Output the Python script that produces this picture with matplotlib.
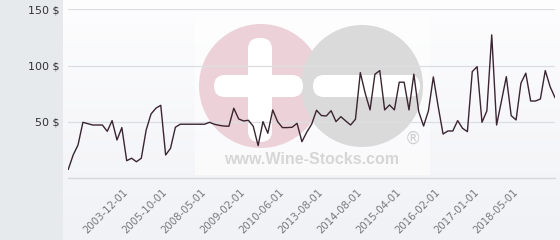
import numpy as np
import matplotlib
matplotlib.use("Agg")
from matplotlib import pyplot as plt
from matplotlib.patches import Rectangle, Circle, FancyBboxPatch

# prices, one per category step
prices = [8, 20.7, 29.6, 49.7, 48.5, 47.3, 47.3, 47.3, 41.7, 51.2,
          34, 45, 15.6, 17.8, 14.7, 17.8, 42.9, 57.1, 62.2, 64.8,
          20.7, 26.6, 45.3, 48, 48, 48, 48, 48, 48, 49.7,
          48, 47, 46.4, 46.2, 62.2, 52.7, 50.9, 51.5, 46.2, 29,
          50.3, 40, 60.7, 50.3, 45, 45, 45.3, 48.8, 32.5, 41,
          48, 60.4, 55.7, 55.3, 60, 50.3, 54.7, 50.9, 47.3, 52.4,
          93.8, 75.5, 60.7, 92.4, 95.6, 60.7, 65.1, 60.7, 85.3, 85.3,
          60.7, 92.4, 59.1, 46.4, 60, 90, 63.6, 39.3, 42, 42,
          51.2, 44.4, 41.4, 94.7, 99.1, 49.7, 59.8, 127.3, 47.3, 68.6,
          90.2, 55.6, 51.8, 84.4, 93.3, 68.6, 68.6, 70.4, 95.6, 81.3, 71.6]
tick_idx = [12, 20, 28, 36, 44, 52, 60, 68, 76, 84, 92]
tick_dates = ['2003-12-01', '2005-10-01', '2008-05-01', '2009-02-01',
              '2010-06-01', '2013-08-01', '2014-08-01', '2015-04-01',
              '2016-02-01', '2017-01-01', '2018-05-01']
y_ticks = [50, 100, 150]

fig = plt.figure(figsize=(5.6, 2.4), dpi=100)

# background layer in pixel coords: side panel, gradient, watermark
bg = fig.add_axes([0, 0, 1, 1], zorder=0)
bg.set_xlim(0, 560)
bg.set_ylim(240, 0)
bg.axis('off')
grad = np.linspace(0, 1, 240).reshape(-1, 1)
bg.imshow(grad, extent=[63, 560, 240, 0], aspect='auto',
          cmap=matplotlib.colors.LinearSegmentedColormap.from_list(
              'g', ['#fdfdfe', '#f1f2f6']))
bg.add_patch(Rectangle((0, 0), 63, 240, color='#e6eaed', lw=0))
bg.add_patch(Rectangle((195, 15), 235, 160, color='white', alpha=0.55, lw=0))

# logo
bg.add_patch(Circle((261, 86), 62, color='#ecd2d8', lw=0))
bg.add_patch(Circle((362, 86), 61, color='#dadada', lw=0))
bg.add_patch(FancyBboxPatch((248, 38), 24, 104, boxstyle='round,pad=0,rounding_size=11',
                            color='white', lw=0))
bg.add_patch(FancyBboxPatch((214, 75), 89, 22, boxstyle='round,pad=0,rounding_size=11',
                            color='white', lw=0))
bg.add_patch(FancyBboxPatch((313, 75), 107, 22, boxstyle='round,pad=0,rounding_size=11',
                            color='white', lw=0))
bg.text(413, 139, '\u00ae', fontsize=12, color='#cfcfcf', ha='center', va='center',
        family='DejaVu Sans')
bg.text(312, 160, 'www.Wine-Stocks.com', fontsize=11.5, fontweight='bold',
        color='#d6d6d6', ha='center', va='center', family='Liberation Sans')

# the chart itself
ax = fig.add_axes([68.3 / 560, 1 - 178.3 / 240, (555 - 68.3) / 560, (178.3 - 9.3) / 240],
                  zorder=1)
ax.patch.set_alpha(0)
x = np.arange(len(prices))
ax.plot(x, prices, color='#3a2530', lw=1.0, zorder=3)
ax.set_xlim(0, len(prices) - 1)
ax.set_ylim(0, 150)

for v in y_ticks:
    ax.axhline(v, color='#dcdee2', lw=0.9, zorder=1)
for s in ax.spines.values():
    s.set_visible(False)
ax.axhline(0, color='#d6d8dc', lw=1.0, zorder=1, clip_on=False)

ax.set_yticks(y_ticks)
ax.set_yticklabels(['%d $' % v for v in y_ticks], fontsize=8, color='#333333')
ax.tick_params(axis='y', length=0, pad=6.5)

ax.set_xticks(tick_idx)
ax.set_xticklabels(tick_dates, rotation=45, ha='right', va='center',
                   rotation_mode='anchor', fontsize=7.3, color='#777777')
ax.tick_params(axis='x', length=0, pad=9)

fig.savefig('out.png', dpi=100)
